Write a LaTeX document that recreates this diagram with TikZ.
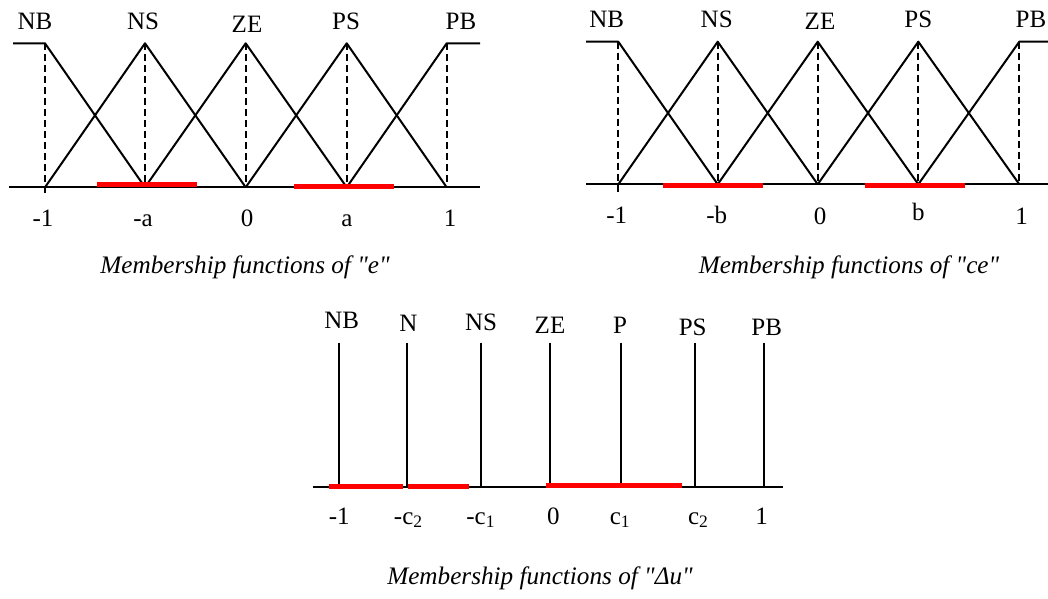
\documentclass[tikz,border=0pt]{standalone}
\usepackage{fontspec}
\setmainfont{Liberation Serif}[Ligatures=TeXOff]
\begin{document}
\begin{tikzpicture}[x=1pt,y=-1pt,
  lbl/.style={font=\fontsize{25}{28}\selectfont, inner sep=0pt, anchor=base},
  capt/.style={font=\fontsize{25.2}{28}\selectfont\itshape, inner sep=0pt, anchor=base},
  mf/.style={line width=2pt, line join=round},
  axisline/.style={line width=2pt},
  guide/.style={dash pattern=on 7pt off 4pt, line width=1.7pt},
  redbar/.style={draw=red, line width=5pt},
  spike/.style={line width=2pt}]
\useasboundingbox (0,0) rectangle (1048,598);

% ---------- Panel 1: e ----------
\coordinate (A0) at (9,187.3);   \coordinate (A9) at (480,187.3);
\coordinate (Al) at (13,43.3);   \coordinate (Ar) at (480,43.3);
\coordinate (At1) at (45,43.3);  \coordinate (Ab1) at (45,187.3);
\coordinate (At2) at (145,43.3); \coordinate (Ab2) at (145,187.3);
\coordinate (At3) at (245.7,43.3); \coordinate (Ab3) at (245.7,187.3);
\coordinate (At4) at (346.7,43.3); \coordinate (Ab4) at (346.7,187.3);
\coordinate (At5) at (446.7,43.3); \coordinate (Ab5) at (446.7,187.3);
\draw[axisline] (A0) -- (A9);
\draw[mf] (Al) -- (At1) -- (Ab2);
\draw[mf] (Ab1) -- (At2) -- (Ab3);
\draw[mf] (Ab2) -- (At3) -- (Ab4);
\draw[mf] (Ab3) -- (At4) -- (Ab5);
\draw[mf] (Ab4) -- (At5) -- (Ar);
\draw[guide] (At1) -- (45,193);
\draw[guide] (At2) -- (Ab2);
\draw[guide] (At3) -- (Ab3);
\draw[guide] (At4) -- (Ab4);
\draw[guide] (At5) -- (Ab5);
\draw[redbar] (97,184.3) -- (197,184.3);
\draw[redbar] (294,186.7) -- (394,186.7);
\node[lbl] (a1) at (35,29.8) {NB};
\node[lbl] (a2) at (143,29.3) {NS};
\node[lbl] (a3) at (247,32) {ZE};
\node[lbl] (a4) at (346,29.5) {PS};
\node[lbl] (a5) at (461,29.5) {PB};
\node[lbl] (ta1) at (43,226.7) {-1};
\node[lbl] (ta2) at (143,226.7) {-a};
\node[lbl] (ta3) at (247,226.7) {0};
\node[lbl] (ta4) at (347,226.7) {a};
\node[lbl] (ta5) at (450,226.7) {1};
\node[capt] (capA) at (245,273) {Membership functions of "e"};

% ---------- Panel 2: ce ----------
\coordinate (B0) at (586,184.3);   \coordinate (B9) at (1048,184.3);
\coordinate (Bl) at (586,41.7);    \coordinate (Br) at (1048,41.7);
\coordinate (Bt1) at (618.3,41.7); \coordinate (Bb1) at (618.3,184.3);
\coordinate (Bt2) at (717.7,41.7); \coordinate (Bb2) at (717.7,184.3);
\coordinate (Bt3) at (817.7,41.7); \coordinate (Bb3) at (817.7,184.3);
\coordinate (Bt4) at (918.3,41.7); \coordinate (Bb4) at (918.3,184.3);
\coordinate (Bt5) at (1019.3,41.7); \coordinate (Bb5) at (1019.3,184.3);
\draw[axisline] (B0) -- (B9);
\draw[mf] (Bl) -- (Bt1) -- (Bb2);
\draw[mf] (Bb1) -- (Bt2) -- (Bb3);
\draw[mf] (Bb2) -- (Bt3) -- (Bb4);
\draw[mf] (Bb3) -- (Bt4) -- (Bb5);
\draw[mf] (Bb4) -- (Bt5) -- (Br);
\draw[guide] (Bt1) -- (618.3,191.5);
\draw[guide] (Bt2) -- (Bb2);
\draw[guide] (Bt3) -- (Bb3);
\draw[guide] (Bt4) -- (Bb4);
\draw[guide] (Bt5) -- (Bb5);
\draw[redbar] (663.3,185.7) -- (763.3,185.7);
\draw[redbar] (865,185.7) -- (965,185.7);
\node[lbl] (b1) at (606.7,27.7) {NB};
\node[lbl] (b2) at (716.7,27) {NS};
\node[lbl] (b3) at (820,29.3) {ZE};
\node[lbl] (b4) at (918.3,27.7) {PS};
\node[lbl] (b5) at (1031,27.7) {PB};
\node[lbl] (tb1) at (616.7,223.3) {-1};
\node[lbl] (tb2) at (716.7,223.3) {-b};
\node[lbl] (tb3) at (820,224) {0};
\node[lbl] (tb4) at (918.3,220) {b};
\node[lbl] (tb5) at (1021.7,224) {1};
\node[capt] (capB) at (849,273) {Membership functions of "ce"};

% ---------- Panel 3: Delta u ----------
\coordinate (C0) at (312.7,486.7); \coordinate (C9) at (783.3,486.7);
\draw[axisline] (C0) -- (C9);
\foreach \n/\x in {1/339.3,2/407.3,3/481,4/550,5/621,6/695,7/764.3}{
  \coordinate (Ct\n) at (\x,342.7);
  \coordinate (Cb\n) at (\x,486.7);
  \draw[spike] (Ct\n) -- (Cb\n);
}
\draw[redbar] (329.3,486.7) -- (403.3,486.7);
\draw[redbar] (407.7,486.7) -- (469.3,486.7);
\draw[redbar] (545.7,485.3) -- (682.3,485.3);
\node[lbl] (c1) at (341.7,328.3) {NB};
\node[lbl] (c2) at (408.3,331.7) {N};
\node[lbl] (c3) at (481,330) {NS};
\node[lbl] (c4) at (550,333.3) {ZE};
\node[lbl] (c5) at (620,333.3) {P};
\node[lbl] (c6) at (692.7,335) {PS};
\node[lbl] (c7) at (766.7,335) {PB};
\node[lbl] (tc1) at (339.3,524) {-1};
\node[lbl] (tc2) at (408.3,524) {-c\textsubscript{2}};
\node[lbl] (tc3) at (480.7,524) {-c\textsubscript{1}};
\node[lbl] (tc4) at (553.3,524) {0};
\node[lbl] (tc5) at (620,524) {c\textsubscript{1}};
\node[lbl] (tc6) at (698.3,524) {c\textsubscript{2}};
\node[lbl] (tc7) at (761.7,524) {1};
\node[capt] (capC) at (540,584) {Membership functions of "Δu"};
\end{tikzpicture}
\end{document}
